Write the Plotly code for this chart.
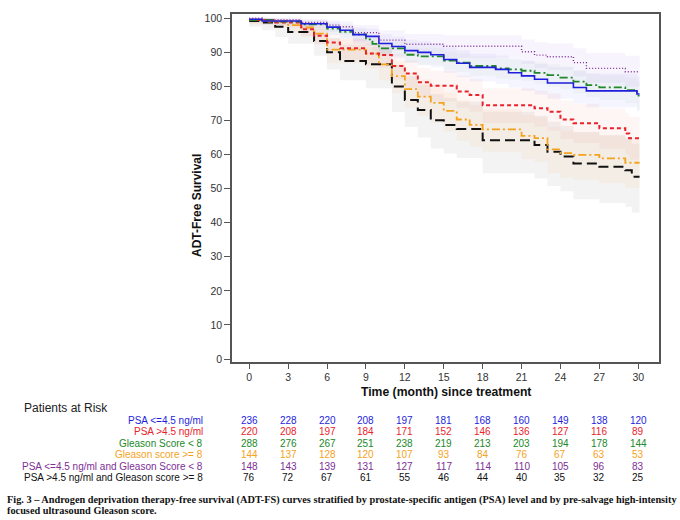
import plotly.graph_objects as go

# ─── data ────────────────────────────────────
# step curves: time of each step (month) and survival after that step (%)
T_PSA_LO = [0, 1, 4, 6, 7, 8, 9, 10, 11, 12, 13, 14, 15, 16, 17, 19, 20, 21, 22, 23, 25, 26, 29.9, 30.1]
S_PSA_LO = [99.7, 99.2, 98.4, 97.4, 96.5, 95.2, 94.7, 92.6, 91.7, 90.5, 90.0, 89.3, 87.9, 86.8, 85.6, 85.0,
            84.0, 83.1, 82.1, 81.0, 79.7, 78.7, 77.8, 77.8]
L_PSA_LO = [99.0, 98.0, 96.6, 95.2, 94.0, 92.5, 91.8, 89.5, 88.4, 87.0, 86.4, 85.6, 84.0, 82.8, 81.5, 80.8,
            79.7, 78.7, 77.6, 76.4, 75.0, 73.9, 72.8, 72.8]
U_PSA_LO = [100, 100, 99.6, 98.9, 98.2, 97.3, 96.9, 95.3, 94.6, 93.7, 93.3, 92.7, 91.5, 90.6, 89.6, 89.1,
            88.3, 87.5, 86.6, 85.6, 84.5, 83.7, 82.9, 82.9]

T_PSA_HI = [0, 2, 4, 5, 6, 7, 9, 10, 11, 12, 13, 14, 16, 17, 18, 22, 23, 24, 25, 27, 29, 29.3, 30.1]
S_PSA_HI = [99.5, 98.8, 96.8, 94.9, 92.9, 91.2, 89.7, 89.2, 86.0, 83.8, 81.2, 80.2, 78.5, 77.5, 74.5, 73.6,
            72.6, 70.3, 69.2, 67.7, 66.2, 64.8, 64.8]
L_PSA_HI = [98.5, 97.2, 94.6, 92.3, 89.9, 87.9, 86.1, 85.5, 82.0, 79.5, 76.7, 75.6, 73.7, 72.6, 69.3, 68.2,
            67.1, 64.6, 63.4, 61.7, 60.1, 58.5, 58.5]
U_PSA_HI = [100, 99.7, 98.4, 97.0, 95.4, 94.0, 92.8, 92.4, 89.6, 87.7, 85.4, 84.6, 83.1, 82.2, 79.5, 78.8,
            77.9, 75.9, 74.9, 73.6, 72.3, 71.0, 71.0]

T_GL_LO = [0, 2, 4, 6, 7, 8, 9, 9.5, 10, 12, 13, 15, 16, 17, 19, 20, 21, 22, 23, 24, 25, 26, 27, 29, 29.9, 30.1]
S_GL_LO = [99.5, 99.0, 98.2, 97.0, 96.0, 95.3, 93.8, 92.5, 91.2, 89.3, 88.8, 87.6, 87.0, 86.0, 85.3, 85.0,
           84.6, 84.0, 83.3, 82.6, 81.4, 80.4, 79.7, 78.9, 77.3, 77.3]
L_GL_LO = [98.8, 98.0, 96.9, 95.4, 94.2, 93.4, 91.7, 90.3, 88.9, 86.8, 86.2, 84.9, 84.2, 83.1, 82.3, 82.0,
           81.5, 80.8, 80.0, 79.2, 77.9, 76.8, 76.0, 75.1, 73.3, 73.3]
U_GL_LO = [100, 99.8, 99.2, 98.3, 97.5, 96.9, 95.6, 94.5, 93.3, 91.7, 91.3, 90.2, 89.7, 88.8, 88.2, 88.0,
           87.6, 87.1, 86.5, 85.9, 84.8, 83.9, 83.3, 82.6, 81.2, 81.2]

T_GL_HI = [0, 1.5, 3, 4, 5, 6, 9, 10, 11, 12, 13, 14, 15, 16, 17, 18, 21, 22, 23, 24, 25, 27, 29, 30.1]
S_GL_HI = [99.5, 99.0, 98.0, 97.3, 95.5, 90.8, 89.6, 86.5, 83.0, 79.2, 77.0, 75.2, 72.8, 70.3, 68.7, 67.4,
           65.5, 64.8, 61.5, 60.4, 59.9, 58.9, 57.6, 57.6]
L_GL_HI = [98.2, 97.4, 95.8, 94.8, 92.5, 86.8, 85.3, 81.8, 78.0, 73.8, 71.4, 69.4, 66.8, 64.1, 62.4, 60.9,
           58.8, 58.0, 54.5, 53.3, 52.7, 51.6, 50.2, 50.2]
U_GL_HI = [100, 99.9, 99.3, 98.9, 97.8, 94.0, 93.1, 90.5, 87.4, 84.0, 82.0, 80.4, 78.2, 75.9, 74.5, 73.3,
           71.6, 71.0, 68.0, 67.0, 66.5, 65.6, 64.5, 64.5]

T_BOTH_LO = [0, 1, 4, 6, 7, 8, 10, 12, 15, 21, 22, 23, 25, 26, 29, 30.1]
S_BOTH_LO = [100, 99.5, 98.8, 98.0, 97.5, 95.8, 93.6, 92.4, 91.8, 90.2, 89.2, 88.7, 87.0, 85.3, 84.3, 84.3]
L_BOTH_LO = [99.5, 98.6, 97.2, 96.0, 95.3, 93.2, 90.6, 89.2, 88.4, 86.6, 85.5, 84.9, 83.0, 81.1, 80.0, 80.0]
U_BOTH_LO = [100, 100, 99.8, 99.4, 99.1, 98.0, 96.4, 95.4, 95.0, 93.8, 93.0, 92.6, 91.2, 89.8, 89.0, 89.0]

T_BOTH_HI = [0, 1, 2, 3, 5, 6, 7, 9, 11, 12, 13, 14, 15, 16, 18, 22, 23, 24, 25, 27, 29, 29.5, 30.1]
S_BOTH_HI = [99.2, 98.8, 97.5, 96.0, 93.3, 90.0, 87.5, 86.5, 80.0, 76.0, 73.1, 70.1, 68.7, 67.5, 64.2, 62.8,
             60.8, 59.4, 57.4, 56.4, 55.4, 53.5, 53.5]
L_BOTH_HI = [97.5, 96.5, 94.5, 92.5, 89.0, 85.0, 81.8, 79.5, 72.5, 68.2, 65.0, 61.8, 60.3, 59.0, 54.5, 53.0,
             50.8, 49.2, 46.9, 45.8, 44.7, 42.9, 42.9]
U_BOTH_HI = [100, 100, 99.6, 98.8, 96.8, 94.2, 92.3, 91.6, 86.4, 83.0, 80.5, 77.8, 76.6, 75.5, 72.6, 71.4,
             69.6, 68.4, 66.6, 65.7, 64.9, 63.2, 63.2]

# patients at risk table
RISK_TIMES = [0, 3, 6, 9, 12, 15, 18, 21, 24, 27, 30]
RISK_PSA_LO = [236, 228, 220, 208, 197, 181, 168, 160, 149, 138, 120]
RISK_PSA_HI = [220, 208, 197, 184, 171, 152, 146, 136, 127, 116, 89]
RISK_GL_LO = [288, 276, 267, 251, 238, 219, 213, 203, 194, 178, 144]
RISK_GL_HI = [144, 137, 128, 120, 107, 93, 84, 76, 67, 63, 53]
RISK_BOTH_LO = [148, 143, 139, 131, 127, 117, 114, 110, 105, 96, 83]
RISK_BOTH_HI = [76, 72, 67, 61, 55, 46, 44, 40, 35, 32, 25]

GROUP_LABELS = [
    "PSA <=4.5 ng/ml",
    "PSA >4.5 ng/ml",
    "Gleason Score < 8",
    "Gleason score >= 8",
    "PSA <=4.5 ng/ml and Gleason Score < 8",
    "PSA >4.5 ng/ml and Gleason score >= 8",
]

CAPTION_1 = ("Fig. 3 – Androgen deprivation therapy-free survival (ADT-FS) curves stratified by "
             "prostate-specific antigen (PSA) level and by pre-salvage high-intensity")
CAPTION_2 = "focused ultrasound Gleason score."

# ─── style ───────────────────────────────────
W, H = 680, 520
M_L, M_R, M_T, M_B = 232, 21, 14, 158
PLOT_H = H - M_T - M_B

COL_BLUE = "#1e1edc"
COL_RED = "#e8232b"
COL_GREEN = "#22882a"
COL_ORANGE = "#f5a21c"
COL_PURPLE = "#7e2e96"
COL_BLACK = "#111111"

SANS = "Liberation Sans, Arial, sans-serif"

SERIES = [
    # times, surv, lower, upper, color, dash, width, band
    (T_BOTH_HI, S_BOTH_HI, L_BOTH_HI, U_BOTH_HI, COL_BLACK, "10px,5px", 2.0, "rgba(120,120,120,0.09)"),
    (T_GL_HI, S_GL_HI, L_GL_HI, U_GL_HI, COL_ORANGE, "8px,3px,2px,3px", 1.8, "rgba(245,160,60,0.08)"),
    (T_PSA_HI, S_PSA_HI, L_PSA_HI, U_PSA_HI, COL_RED, "4px,3px", 2.0, "rgba(240,110,110,0.07)"),
    (T_GL_LO, S_GL_LO, L_GL_LO, U_GL_LO, COL_GREEN, "8px,3px,2px,3px", 1.8, "rgba(140,170,140,0.06)"),
    (T_PSA_LO, S_PSA_LO, L_PSA_LO, U_PSA_LO, COL_BLUE, "solid", 1.6, "rgba(110,130,240,0.08)"),
    (T_BOTH_LO, S_BOTH_LO, L_BOTH_LO, U_BOTH_LO, COL_PURPLE, "1px,2px", 1.4, "rgba(170,120,230,0.08)"),
]


def py_to_paper(py):
    return (H - M_B - py) / PLOT_H


def px_to_paper(px):
    return (px - M_L) / (W - M_L - M_R)


fig = go.Figure()

for t, s, lo, up, color, dash, width, band in SERIES:
    fig.add_trace(go.Scatter(x=t, y=lo, mode="lines", line=dict(width=0, shape="hv"),
                             hoverinfo="skip", showlegend=False))
    fig.add_trace(go.Scatter(x=t, y=up, mode="lines", line=dict(width=0, shape="hv"),
                             fill="tonexty", fillcolor=band, hoverinfo="skip", showlegend=False))

for t, s, lo, up, color, dash, width, band in SERIES:
    fig.add_trace(go.Scatter(x=t, y=s, mode="lines",
                             line=dict(color=color, dash=dash, width=width, shape="hv"),
                             showlegend=False))

axis_line = "#555555"
tick_font = dict(family=SANS, size=10.5, color="#333333")

fig.update_xaxes(
    range=[-1.33, 31.6], tickvals=RISK_TIMES, ticks="outside", ticklen=5, tickcolor=axis_line,
    showline=True, linecolor=axis_line, linewidth=1.5, mirror=True, showgrid=False, zeroline=False,
    tickfont=tick_font,
)
fig.update_yaxes(
    range=[-0.88, 101.26], tickvals=list(range(0, 101, 10)), ticks="outside", ticklen=6,
    tickcolor=axis_line, showline=True, linecolor=axis_line, linewidth=1.5, mirror=True,
    showgrid=False, zeroline=False, tickfont=tick_font,
)

# axis titles
fig.add_annotation(text="<b>Time (month) since treatment</b>", xref="paper", yref="paper",
                   x=0.5, y=py_to_paper(392), xanchor="center", yanchor="middle", showarrow=False,
                   font=dict(family=SANS, size=12.2, color="#111"))
fig.add_annotation(text="<b>ADT-Free Survival</b>", xref="paper", yref="paper",
                   x=px_to_paper(197), y=py_to_paper(206), xanchor="center", yanchor="middle",
                   textangle=-90, showarrow=False, font=dict(family=SANS, size=12, color="#111"))

# patients at risk table
fig.add_annotation(text="Patients at Risk", xref="paper", yref="paper",
                   x=px_to_paper(22), y=py_to_paper(408), xanchor="left", yanchor="middle",
                   showarrow=False, font=dict(family=SANS, size=12, color="#222"))

risk_rows = [RISK_PSA_LO, RISK_PSA_HI, RISK_GL_LO, RISK_GL_HI, RISK_BOTH_LO, RISK_BOTH_HI]
row_colors = [COL_BLUE, COL_RED, COL_GREEN, COL_ORANGE, COL_PURPLE, COL_BLACK]
row_y = [420.3, 431.5, 443, 454.5, 466, 477.3]

for label, counts, color, yy in zip(GROUP_LABELS, risk_rows, row_colors, row_y):
    fnt = dict(family=SANS, size=10, color=color)
    fig.add_annotation(text=label, xref="paper", yref="paper", x=px_to_paper(205),
                       y=py_to_paper(yy), xanchor="right", yanchor="middle",
                       showarrow=False, font=fnt)
    for tt, n in zip(RISK_TIMES, counts):
        fig.add_annotation(text=str(n), xref="x", yref="paper", x=tt, y=py_to_paper(yy),
                           xanchor="center", yanchor="middle", showarrow=False, font=fnt)

cap_font = dict(family="Liberation Serif, Times New Roman, serif", size=10.3, color="#111")
for txt, yy in [(CAPTION_1, 499.5), (CAPTION_2, 510.8)]:
    fig.add_annotation(text=f"<b>{txt}</b>", xref="paper", yref="paper",
                       x=px_to_paper(5), y=py_to_paper(yy), xanchor="left", yanchor="middle",
                       showarrow=False, font=cap_font)

fig.update_layout(
    width=W, height=H,
    margin=dict(l=M_L, r=M_R, t=M_T, b=M_B),
    plot_bgcolor="white", paper_bgcolor="white",
    showlegend=False,
)

# the page body has a default margin; drop it so the figure sits at the window corner
fig.write_html("out.html", config={"displayModeBar": False},
               post_script="document.body.style.margin='0';")
